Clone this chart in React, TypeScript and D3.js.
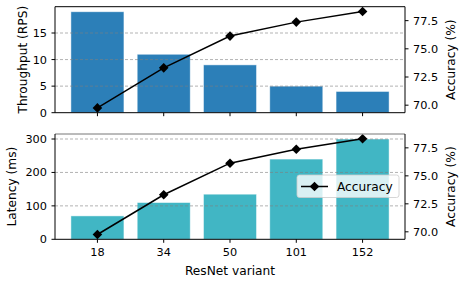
import React from "react";
import * as d3 from "d3";

const variants = ["18", "34", "50", "101", "152"];
const throughput = [19, 11, 9, 5, 4];
const latency = [70, 110, 135, 240, 300];
const accuracy = [69.76, 73.31, 76.13, 77.37, 78.31];
const throughputTicks = [0, 5, 10, 15];
const latencyTicks = [0, 100, 200, 300];
const accuracyTicks = [70.0, 72.5, 75.0, 77.5];

const W = 465, H = 283;
const L = 55, R = 405;
const FONT = "DejaVu Sans, sans-serif";
const TICK_FS = 11.3;
const LABEL_FS = 12.2;

function Panel({ top, bottom, values, yMax, yTicks, color, ylabel, ylabelX, showX, legend, topSpineColor }: any) {
  const x = d3.scaleLinear().domain([-0.64, variants.length - 1 + 0.64]).range([L, R]);
  const bw = x(0.8) - x(0);
  const y = d3.scaleLinear().domain([0, yMax]).range([bottom, top]);
  const accMin = d3.min(accuracy)!, accMax = d3.max(accuracy)!;
  const m = (accMax - accMin) * 0.05;
  const ya = d3.scaleLinear().domain([accMin - m, accMax + m]).range([bottom, top]);
  const line = d3.line<number>().x((_, i) => x(i)).y((d) => ya(d));
  const diamond = (cx: number, cy: number, r: number) =>
    `M${cx},${cy - r}L${cx + r},${cy}L${cx},${cy + r}L${cx - r},${cy}Z`;
  return (
    <g>
      {values.map((v: number, i: number) => (
        <rect key={i} x={x(i) - bw / 2} y={y(v)} width={bw} height={y(0) - y(v)}
          fill={color} stroke="rgba(255,255,255,0.6)" strokeWidth={0.8} />
      ))}
      {yTicks.filter((t: number) => t > 0).map((t: number) => (
        <line key={t} x1={L} x2={R} y1={y(t)} y2={y(t)} stroke="#808080" strokeOpacity={0.75}
          strokeWidth={0.8} strokeDasharray="3,2" />
      ))}
      <path d={line(accuracy)!} fill="none" stroke="#000" strokeWidth={1.5} />
      {accuracy.map((a, i) => (
        <path key={i} d={diamond(x(i), ya(a), 4.8)} fill="#000" />
      ))}
      {/* spines */}
      <line x1={L} x2={R} y1={top} y2={top} stroke={topSpineColor} strokeWidth={1} />
      <line x1={L} x2={R} y1={bottom} y2={bottom} stroke="#000" strokeWidth={1} />
      <line x1={L} x2={L} y1={top} y2={bottom} stroke="#000" strokeWidth={1} />
      <line x1={R} x2={R} y1={top} y2={bottom} stroke="#000" strokeWidth={1} />
      {/* left ticks */}
      {yTicks.map((t: number) => (
        <g key={t}>
          <line x1={L - 3.5} x2={L} y1={y(t)} y2={y(t)} stroke="#000" />
          <text x={L - 8} y={y(t)} dy="0.35em" textAnchor="end" fontSize={TICK_FS} fontFamily={FONT}>{t}</text>
        </g>
      ))}
      {/* right ticks */}
      {accuracyTicks.map((t) => (
        <g key={t}>
          <line x1={R} x2={R + 3.5} y1={ya(t)} y2={ya(t)} stroke="#000" />
          <text x={R + 8} y={ya(t)} dy="0.35em" textAnchor="start" fontSize={TICK_FS} fontFamily={FONT}>{t.toFixed(1)}</text>
        </g>
      ))}
      {/* x ticks */}
      {variants.map((v, i) => (
        <g key={v}>
          <line x1={x(i)} x2={x(i)} y1={bottom} y2={bottom + 3.5} stroke="#000" />
          {showX && (
            <text x={x(i)} y={256} textAnchor="middle" fontSize={TICK_FS} fontFamily={FONT}>{v}</text>
          )}
        </g>
      ))}
      <text transform={`translate(${ylabelX},${(top + bottom) / 2}) rotate(-90)`} textAnchor="middle"
        fontSize={LABEL_FS} fontFamily={FONT}>{ylabel}</text>
      <text transform={`translate(455,${(top + bottom) / 2}) rotate(-90)`} textAnchor="middle"
        fontSize={LABEL_FS} fontFamily={FONT}>Accuracy (%)</text>
      {legend && (
        <g>
          <rect x={297} y={175} width={102} height={22.5} rx={2.5} fill="rgba(255,255,255,0.8)" stroke="#cccccc" strokeWidth={0.8} />
          <line x1={301} x2={328} y1={186.5} y2={186.5} stroke="#000" strokeWidth={1.5} />
          <path d={diamond(314.5, 186.5, 4.8)} fill="#000" />
          <text x={337} y={186.5} dy="0.35em" fontSize={LABEL_FS} fontFamily={FONT}>Accuracy</text>
        </g>
      )}
    </g>
  );
}

export default function App() {
  return (
    <svg width={W} height={H} style={{ position: "absolute", left: 0, top: 0, background: "#fff" }}>
      <rect width={W} height={H} fill="#fff" />
      <Panel top={6.7} bottom={112.7} values={throughput} yMax={19.95} yTicks={throughputTicks}
        color="#2c7fb8" ylabel="Throughput (RPS)" ylabelX={27} showX={false} legend={false} topSpineColor="#000" />
      <Panel top={134} bottom={239.3} values={latency} yMax={315} yTicks={latencyTicks}
        color="#41b6c4" ylabel="Latency (ms)" ylabelX={16} showX={true} legend={true} topSpineColor="#777" />
      <text x={230} y={275} textAnchor="middle" fontSize={LABEL_FS} fontFamily={FONT}>ResNet variant</text>
    </svg>
  );
}
